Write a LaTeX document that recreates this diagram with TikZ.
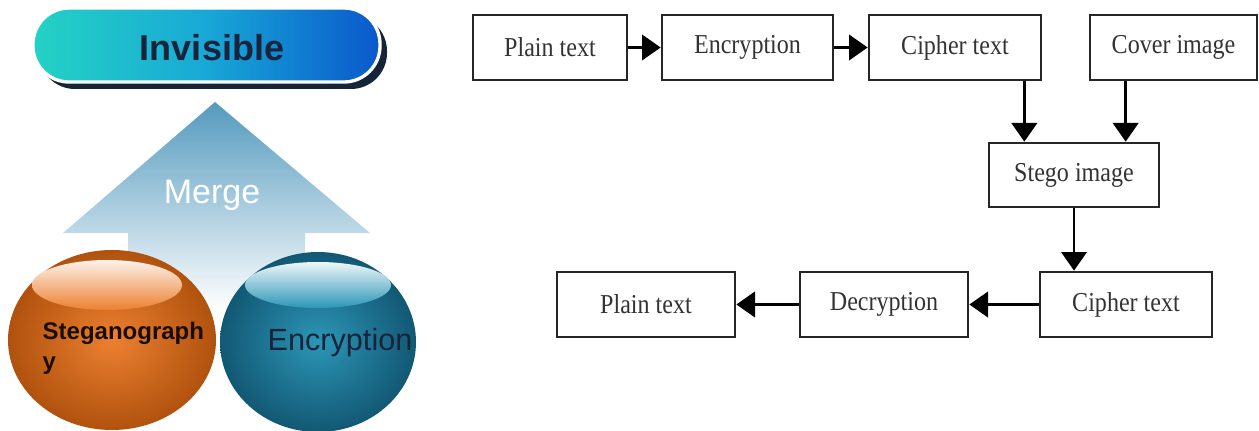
\documentclass[tikz,border=0pt]{standalone}
\usepackage{fontspec}
\setmainfont{Liberation Serif}
\newfontfamily\arialfont{Liberation Sans}
\newfontfamily\boxfont[FakeStretch=0.88]{Liberation Serif}
\usetikzlibrary{arrows.meta}

\definecolor{pillL}{RGB}{36,210,196}
\definecolor{pillM}{RGB}{24,168,214}
\definecolor{pillR}{RGB}{10,88,204}
\definecolor{pillShadow}{RGB}{22,36,56}
\definecolor{mergeTop}{RGB}{84,154,190}
\definecolor{orgIn}{RGB}{236,128,48}
\definecolor{orgOut}{RGB}{176,82,14}
\definecolor{tealIn}{RGB}{44,150,182}
\definecolor{tealOut}{RGB}{18,88,116}
\definecolor{navyText}{RGB}{24,36,60}

\tikzset{
  flowbox/.style={draw=black!85, line width=2pt, fill=white, inner sep=0pt,
    minimum height=48.75pt, text=black!80, font=\boxfont\fontsize{20.5}{23}\selectfont},
  flow/.style={line width=2.2pt, -{Triangle[length=14pt,width=19pt]}},
}

\begin{document}
\begin{tikzpicture}[x=0.75pt,y=0.75pt,yscale=-1,xscale=1]
\useasboundingbox (0,0) rectangle (1259,431);

% left: merge picture
\fill[pillShadow, rounded corners=27pt] (39,15) rectangle (387,89);
\draw[white, line width=2.5pt, rounded corners=27pt, left color=pillL, right color=pillR, middle color=pillM] (33,8) rectangle (380,82);
\node[font=\arialfont\bfseries\fontsize{27}{30}\selectfont, text=navyText] (inv) at (212,48) {Invisible};

\shade[top color=mergeTop, bottom color=white] (215,102) -- (370,233) -- (305,233) -- (305,310) -- (128,310) -- (128,233) -- (63,233) -- cycle;
\node[font=\arialfont\fontsize{25.5}{28}\selectfont, text=white] (merge) at (212,195) {Merge};

\shade[inner color=tealIn, outer color=tealOut] (318,342) ellipse [x radius=98, y radius=90];
\shade[top color=white!92!tealIn, bottom color=tealIn] (318,285) ellipse [x radius=73, y radius=23];
\shade[inner color=orgIn, outer color=orgOut] (112,340) ellipse [x radius=104, y radius=90];
\shade[top color=white!90!orgIn, bottom color=orgIn] (107,285) ellipse [x radius=75, y radius=25];

\node[anchor=west, align=left, font=\arialfont\bfseries\fontsize{18}{22.5}\selectfont, text=black!90!orange] (steg) at (38,348) {Steganograph\\y};
\node[font=\arialfont\fontsize{23}{26}\selectfont, text=navyText] (encl) at (340,343) {Encryption};

% right: flow chart
\node[flowbox, minimum width=115.5pt] (pt1) at (550,47.5) {Plain text};
\node[flowbox, minimum width=128.25pt] (enc) at (747.5,47.5) {Encryption};
\node[flowbox, minimum width=129pt] (ct1) at (955,47.5) {Cipher text};
\node[flowbox, minimum width=125.25pt] (cov) at (1173.5,47.5) {Cover image};
\node[flowbox, minimum width=127.5pt, minimum height=48pt] (stego) at (1074,175) {Stego image};
\node[flowbox, minimum width=129pt] (ct2) at (1126,304.5) {Cipher text};
\node[flowbox, minimum width=126pt] (dec) at (884,304.5) {Decryption};
\node[flowbox, minimum width=133.5pt] (pt2) at (646,304.5) {Plain text};

\coordinate (c1) at ([xshift=-13.5pt]ct1.south east);
\coordinate (c2) at ([xshift=27.75pt]cov.south west);

\draw[flow] (pt1) -- (enc);
\draw[flow] (enc) -- (ct1);
\draw[flow] (c1) -- (c1 |- stego.north);
\draw[flow] (c2) -- (c2 |- stego.north);
\draw[flow] (stego.south) -- (stego.south |- ct2.north);
\draw[flow] (ct2) -- (dec);
\draw[flow] (dec) -- (pt2);

\end{tikzpicture}
\end{document}
